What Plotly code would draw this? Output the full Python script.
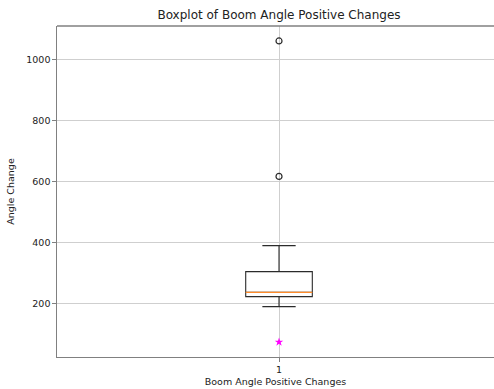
import plotly.graph_objects as go

# Box statistics for boom angle positive changes
position = [1]
q1 = [224]
median = [238]
q3 = [306]
lower_whisker = [191]
upper_whisker = [391]
outliers = [618, 1062]
highlight = [75]

BOX_W = 0.15
FONT = "DejaVu Sans"

fig = go.Figure()

fig.add_trace(go.Box(
    x=position, q1=q1, median=median, q3=q3,
    lowerfence=lower_whisker, upperfence=upper_whisker,
    width=BOX_W, whiskerwidth=0.5, boxpoints=False,
    fillcolor="white", line=dict(color="#2b2b2b", width=1.1),
    showlegend=False, hoverinfo="skip",
))

# orange median line drawn over the box
fig.add_trace(go.Scatter(
    x=[position[0] - BOX_W / 2, position[0] + BOX_W / 2], y=[median[0], median[0]],
    mode="lines", line=dict(color="#ff8c2a", width=1.1),
    showlegend=False, hoverinfo="skip",
))

# flier points
fig.add_trace(go.Scatter(
    x=[position[0]] * len(outliers), y=outliers, mode="markers",
    marker=dict(symbol="circle-open", size=6, color="#2b2b2b", line=dict(width=1.2)),
    showlegend=False, hoverinfo="skip",
))

# highlighted point
fig.add_trace(go.Scatter(
    x=[position[0]] * len(highlight), y=highlight, mode="markers",
    marker=dict(symbol="star", size=6.5, color="#ff00ff"),
    showlegend=False, hoverinfo="skip",
))

axis_common = dict(
    showline=True, linecolor="#808080", linewidth=1.3, mirror=False,
    ticks="outside", ticklen=3.5, tickcolor="#808080", tickwidth=1,
    showgrid=True, gridcolor="#cfcfcf", gridwidth=1, zeroline=False,
    tickfont=dict(family=FONT, size=9.5, color="#222222"),
)

fig.update_layout(
    width=494, height=389,
    margin=dict(l=57, r=0, t=26, b=32),
    paper_bgcolor="white", plot_bgcolor="white",
    font=dict(family=FONT, color="#222222"),
    title=dict(text="Boxplot of Boom Angle Positive Changes", xref="paper", x=0.508,
               xanchor="center", yref="container", y=0.962, yanchor="middle",
               font=dict(family=FONT, size=12, color="#222222")),
    xaxis=dict(axis_common, range=[0.5, 1.4842], tickvals=[1], ticktext=["1"],
               title=dict(text="Boom Angle Positive Changes", standoff=4,
                          font=dict(family=FONT, size=9.5, color="#222222"))),
    yaxis=dict(axis_common, range=[26, 1111], tickvals=[200, 400, 600, 800, 1000],
               title=dict(text="Angle Change", standoff=9,
                          font=dict(family=FONT, size=9.5, color="#222222"))),
)

# top spine
fig.add_shape(type="line", xref="paper", yref="paper", x0=0, x1=1, y0=1, y1=1,
              line=dict(color="#808080", width=1.3))

fig.write_html("out.html")
